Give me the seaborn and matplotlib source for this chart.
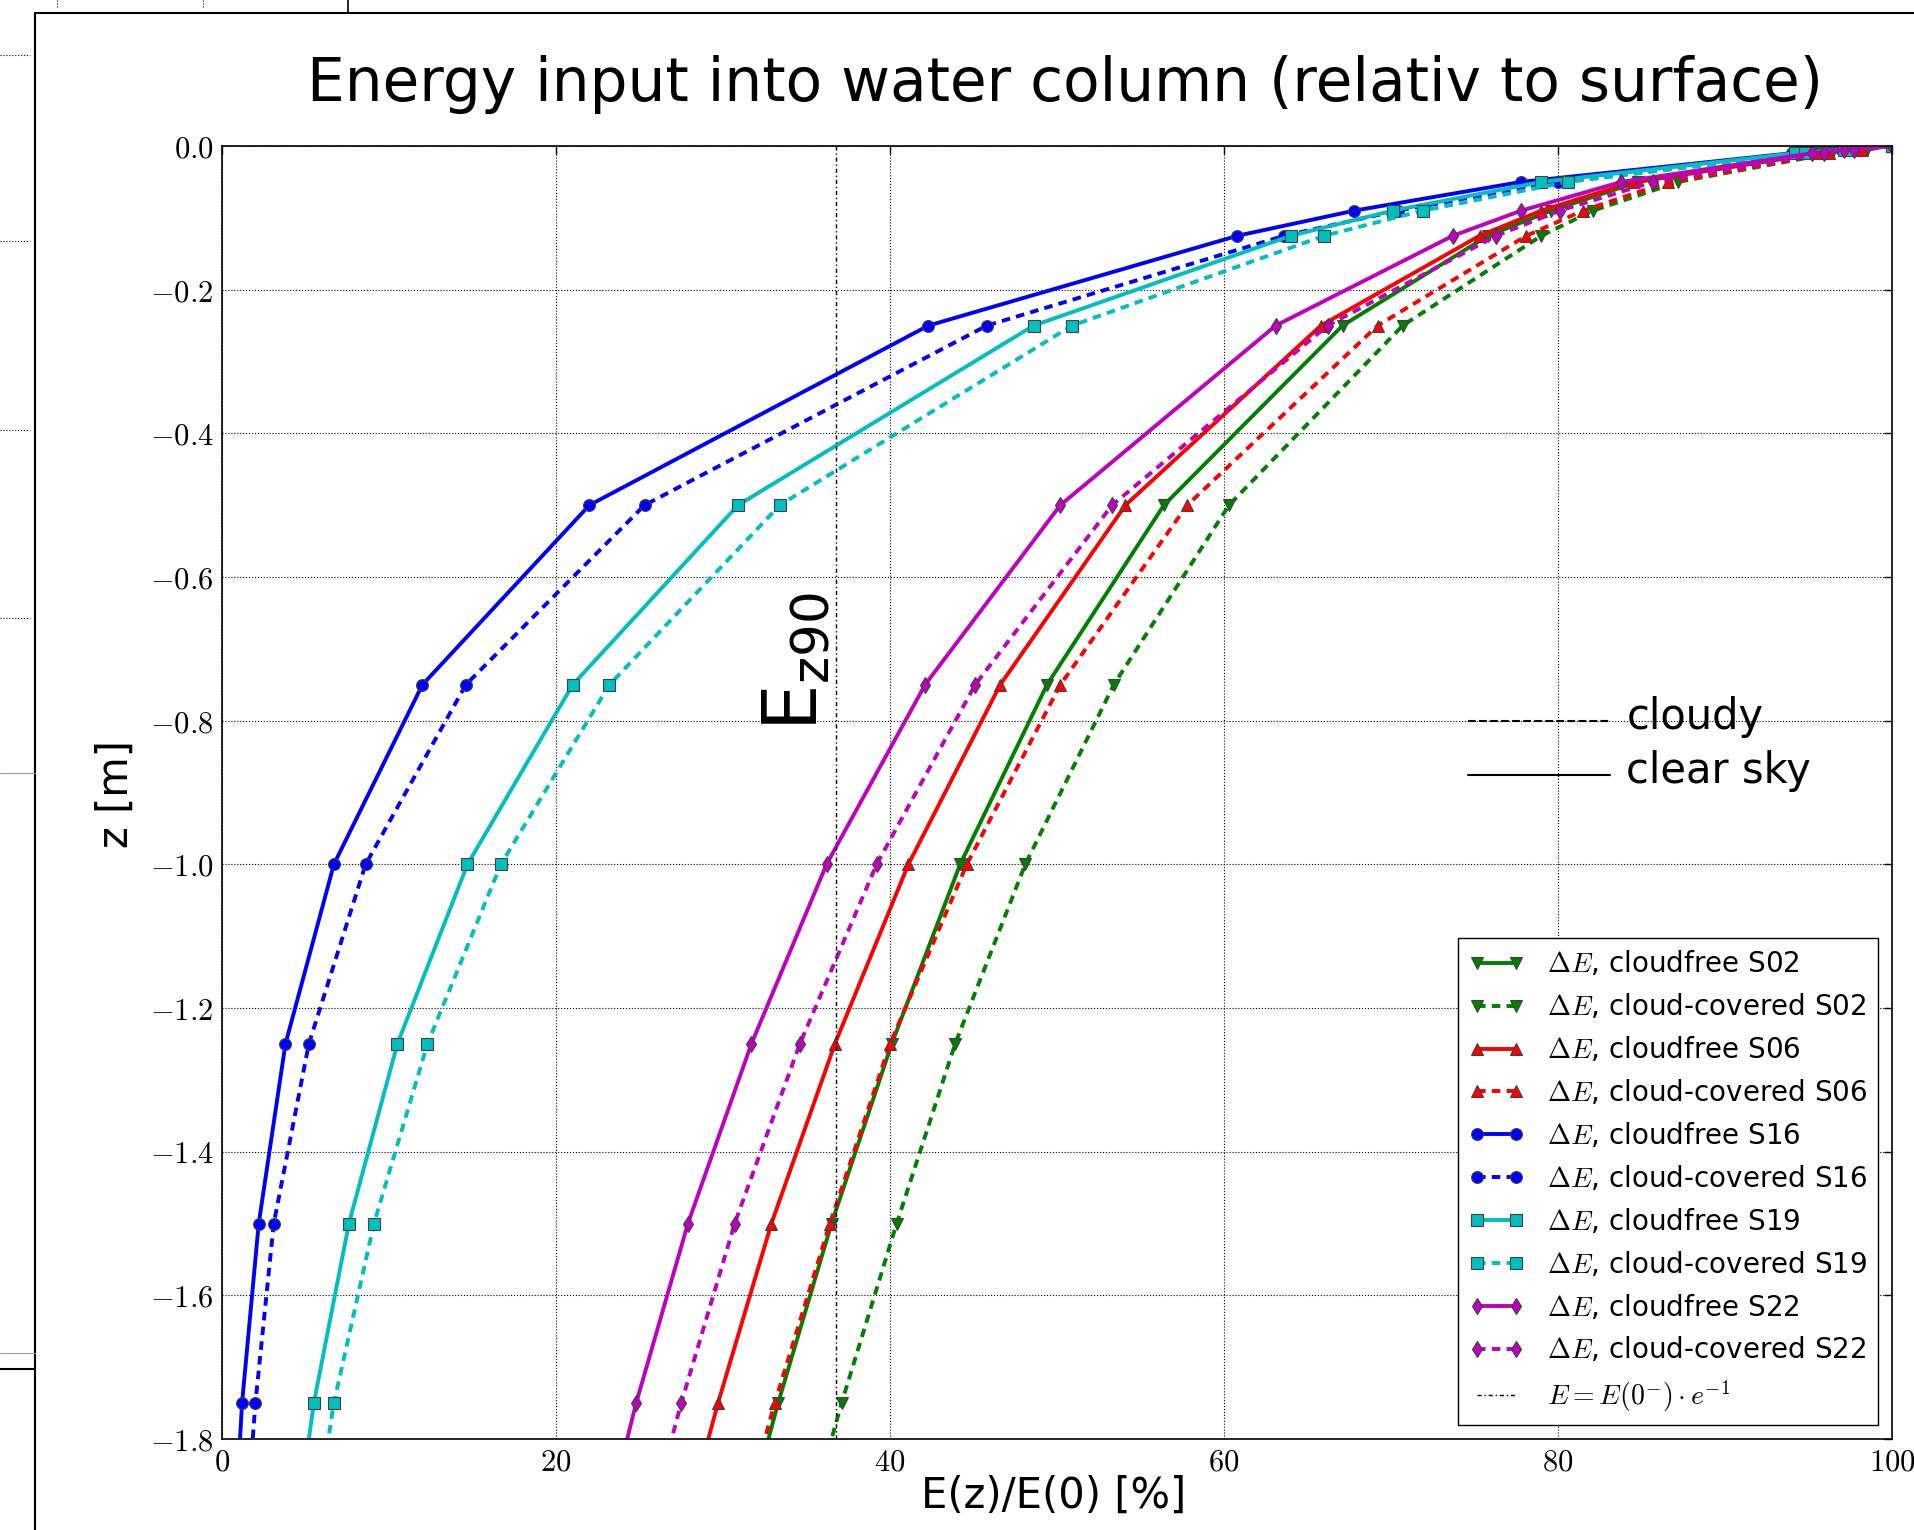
import matplotlib
matplotlib.use("Agg")
import matplotlib.pyplot as plt
from matplotlib.lines import Line2D
from matplotlib.ticker import FixedLocator, FuncFormatter
import numpy as np
import pandas as pd
import seaborn as sns

# ── Data ─────────────────────────────────────────────────────────────────────
depth = [0.0, -0.005, -0.01, -0.05, -0.09, -0.125, -0.25, -0.5, -0.75,
         -1.0, -1.25, -1.5, -1.75, -2.0]

s02_clear = [100, 98.0, 95.6, 84.8, 79.6, 75.8, 67.1, 56.4, 49.4, 44.2, 40.1, 36.5, 33.3, 30.4]
s02_cloud = [100, 98.5, 96.4, 87.2, 82.1, 79.0, 70.7, 60.3, 53.4, 48.1, 43.9, 40.4, 37.1, 34.1]
s06_clear = [100, 97.8, 95.5, 84.5, 79.0, 75.3, 65.8, 54.1, 46.6, 41.1, 36.7, 32.9, 29.7, 26.8]
s06_cloud = [100, 98.2, 96.2, 86.6, 81.5, 78.1, 69.2, 57.8, 50.2, 44.6, 40.0, 36.4, 33.1, 30.1]
s16_clear = [100, 97.0, 94.0, 77.8, 67.8, 60.8, 42.3, 22.0, 12.0, 6.7, 3.8, 2.2, 1.2, 0.6]
s16_cloud = [100, 97.2, 94.5, 80.0, 70.4, 63.6, 45.8, 25.3, 14.6, 8.6, 5.2, 3.1, 2.0, 1.2]
s19_clear = [100, 97.1, 94.2, 79.0, 70.1, 64.0, 48.6, 30.9, 21.0, 14.7, 10.5, 7.6, 5.5, 4.0]
s19_cloud = [100, 97.4, 94.8, 80.6, 71.9, 66.0, 50.9, 33.4, 23.2, 16.7, 12.3, 9.1, 6.7, 5.0]
s22_clear = [100, 97.1, 95.2, 83.8, 77.8, 73.7, 63.1, 50.2, 42.1, 36.2, 31.7, 27.9, 24.8, 22.1]
s22_cloud = [100, 97.7, 95.9, 85.7, 80.1, 76.3, 66.2, 53.3, 45.1, 39.2, 34.6, 30.7, 27.5, 24.6]

stations = ["S02", "S06", "S16", "S19", "S22"]
station_colors = ["g", "r", "b", "c", "m"]
station_markers = ["v", "^", "o", "s", "d"]
clear_values = [s02_clear, s06_clear, s16_clear, s19_clear, s22_clear]
cloud_values = [s02_cloud, s06_cloud, s16_cloud, s19_cloud, s22_cloud]

efold_x = 100 / np.e  # E = E(0^-) * e^-1

x_ticks = [0, 20, 40, 60, 80, 100]
y_ticks = [0.0, -0.2, -0.4, -0.6, -0.8, -1.0, -1.2, -1.4, -1.6, -1.8]

# ── Style ────────────────────────────────────────────────────────────────────
sns.set_style("white")
plt.rcParams["font.family"] = ["DejaVu Sans"]
plt.rcParams["mathtext.fontset"] = "cm"
for key in ["text.color", "axes.labelcolor", "xtick.color", "ytick.color"]:
    plt.rcParams[key] = "k"

W, H = 1915, 1530
fig = plt.figure(figsize=(W / 100, H / 100), dpi=100)
ax = fig.add_axes([222 / W, 1 - 1439 / H, (1892 - 222) / W, (1439 - 146) / H])

dash = (0, (2.2, 1.6))
line_kw = dict(linewidth=2.8, markersize=8.5, markeredgecolor="0.25",
               markeredgewidth=0.8, estimator=None, sort=False)

for name, col, mk, clear, cloud in zip(stations, station_colors, station_markers,
                                        clear_values, cloud_values):
    sns.lineplot(x=clear, y=depth, ax=ax, color=col, marker=mk, linestyle="-",
                 label=rf"$\Delta E$, cloudfree {name}", **line_kw)
    sns.lineplot(x=cloud, y=depth, ax=ax, color=col, marker=mk, linestyle=dash,
                 label=rf"$\Delta E$, cloud-covered {name}", **line_kw)

ax.axvline(efold_x, color="k", linewidth=1.0, linestyle=(0, (3, 2, 1, 2)),
           label=r"$E = E(0^{-})\cdot e^{-1}$")

# cloudy / clear sky key drawn inside the axes
ax.plot([74.6, 83.1], [-0.8, -0.8], color="k", linewidth=1.5, linestyle="--",
        label="_nolegend_")
ax.plot([74.6, 83.1], [-0.875, -0.875], color="k", linewidth=1.5,
        label="_nolegend_")
ax.text(84.1, -0.795, "cloudy", fontsize=30, va="center", ha="left")
ax.text(84.1, -0.87, "clear sky", fontsize=30, va="center", ha="left")

ax.text(36.6, -0.815, r"$\mathrm{E_{z90}}$", rotation=90, ha="right", va="bottom",
        fontsize=53, math_fontfamily="dejavusans")

ax.set_xlim(0, 100)
ax.set_ylim(-1.8, 0)
ax.xaxis.set_major_locator(FixedLocator(x_ticks))
ax.yaxis.set_major_locator(FixedLocator(y_ticks))
ax.xaxis.set_major_formatter(FuncFormatter(lambda v, p: f"${v:.0f}$"))
ax.yaxis.set_major_formatter(
    FuncFormatter(lambda v, p: ("$%.1f$" % v).replace("-0.0", "0.0")))
ax.tick_params(direction="in", top=True, right=True, length=6, width=1,
               labelsize=22, pad=6)
ax.grid(True, color="k", linestyle=":", linewidth=0.8)
for sp in ax.spines.values():
    sp.set_linewidth(1.2)
    sp.set_color("k")
ax.set_xlabel("")
ax.set_ylabel("")

handles, labels = ax.get_legend_handles_labels()
leg = ax.legend(handles, labels, loc="lower right", fontsize=20, numpoints=2,
                fancybox=False, framealpha=1, edgecolor="k",
                borderaxespad=0.5, handlelength=2.0)
leg.get_frame().set_linewidth(1.0)

fig.text(1065 / W, 1 - 85 / H, "Energy input into water column (relativ to surface)",
         fontsize=43, ha="center", va="center")
fig.text(116 / W, 1 - 794 / H, "z [m]", fontsize=30, rotation=90,
         ha="center", va="center")
fig.text(1054 / W, 1 - 1496 / H, "E(z)/E(0) [%]", fontsize=30,
         ha="center", va="center")

# screenshot frame and leftovers of the window behind
fx = lambda px: px / W
fy = lambda py: 1 - py / H
fig.add_artist(Line2D([fx(35), fx(35)], [0, fy(13)], color="k", lw=1.5))
fig.add_artist(Line2D([fx(35), 1], [fy(13), fy(13)], color="k", lw=1.5))
fig.add_artist(Line2D([fx(348), fx(348)], [fy(13), 1], color="k", lw=1.2))
for py in [55, 241, 430, 618]:
    fig.add_artist(Line2D([0, fx(30)], [fy(py), fy(py)], color="k", lw=0.8,
                          linestyle=":"))
for px in [57, 203]:
    fig.add_artist(Line2D([fx(px), fx(px)], [fy(7), 1], color="k", lw=0.8,
                          linestyle=":"))
fig.add_artist(Line2D([0, fx(35)], [fy(773), fy(773)], color="0.6", lw=0.8))
fig.add_artist(Line2D([0, fx(35)], [fy(1353), fy(1353)], color="0.6", lw=0.8))
fig.add_artist(Line2D([0, fx(35)], [fy(1369), fy(1369)], color="k", lw=1.5))

fig.savefig("out.png", dpi=100)
plt.close(fig)
